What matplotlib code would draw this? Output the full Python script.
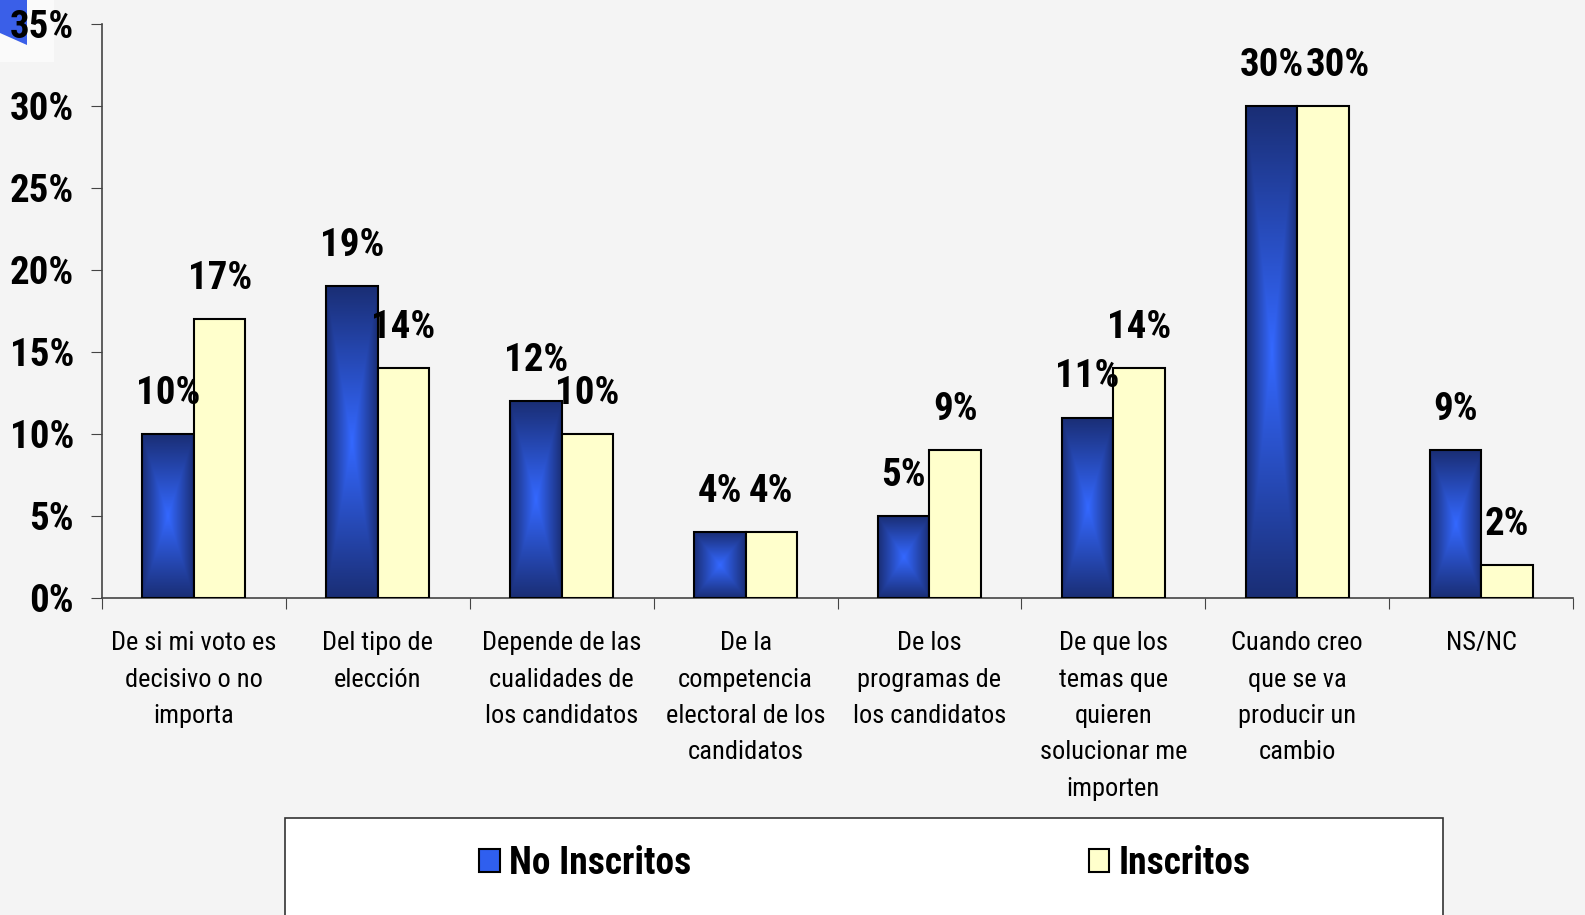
import matplotlib
matplotlib.use('Agg')
import matplotlib.pyplot as plt
import numpy as np
from matplotlib.colors import LinearSegmentedColormap
from matplotlib.patches import Rectangle, Polygon, Patch

plt.rcParams['font.family'] = ['Roboto Condensed', 'DejaVu Sans']

categories = ["De si mi voto es\ndecisivo o no\nimporta",
              "Del tipo de\nelección",
              "Depende de las\ncualidades de\nlos candidatos",
              "De la\ncompetencia\nelectoral de los\ncandidatos",
              "De los\nprogramas de\nlos candidatos",
              "De que los\ntemas que\nquieren\nsolucionar me\nimporten",
              "Cuando creo\nque se va\nproducir un\ncambio",
              "NS/NC"]
no_inscritos = [10, 19, 12, 4, 5, 11, 30, 9]
inscritos = [17, 14, 10, 4, 9, 14, 30, 2]
y_ticks = [0, 5, 10, 15, 20, 25, 30, 35]

bg = '#F4F4F4'
blue_cmap = LinearSegmentedColormap.from_list('bar', ['#3468FF', '#1A2E75'])

fig = plt.figure(figsize=(15.85, 9.15), dpi=100, facecolor=bg)
ax = fig.add_axes([102 / 1585, 317 / 915, 1471 / 1585, 574 / 915])
ax.set_facecolor(bg)

x = np.arange(len(categories))
w = 0.28

bars_b = ax.bar(x - w / 2, no_inscritos, w, facecolor='none', edgecolor='black', linewidth=1.5, zorder=3)
bars_y = ax.bar(x + w / 2, inscritos, w, color='#FFFFCC', edgecolor='black', linewidth=1.5, zorder=3)

# gradiente "desde el centro" para las barras azules
u = np.linspace(-1, 1, 200)
uu, vv = np.meshgrid(u, u)
grad = np.maximum(np.abs(uu), np.abs(vv))
for b in bars_b:
    x0, y0 = b.get_x(), b.get_y()
    im = ax.imshow(grad, cmap=blue_cmap, extent=(x0, x0 + b.get_width(), y0, y0 + b.get_height()),
                   aspect='auto', zorder=2, interpolation='bilinear')
    im.set_clip_path(b)

labels = []
for bars, vals in [(bars_b, no_inscritos), (bars_y, inscritos)]:
    row = []
    for b, v in zip(bars, vals):
        t = ax.annotate(f"{v}%", (b.get_x() + b.get_width() / 2, v), xytext=(0, 16),
                        textcoords='offset points', ha='center', va='bottom',
                        fontsize=28, fontweight='bold', zorder=4)
        row.append(t)
    labels.append(row)

ax.set_xlim(-0.5, len(categories) - 0.5)
ax.set_ylim(0, 35)
ax.set_yticks(y_ticks)
ax.set_yticklabels([f"{t}%" for t in y_ticks], fontsize=28, fontweight='bold')
ax.set_xticks(np.arange(-0.5, len(categories), 1.0))
ax.set_xticklabels([])
ax.set_xticks(x, minor=True)
ax.set_xticklabels(categories, minor=True, fontsize=19, linespacing=1.65, va='top')
ax.tick_params(axis='x', which='minor', length=0, pad=24)
ax.tick_params(axis='x', which='major', length=8, color='#444444')
ax.tick_params(axis='y', length=8, color='#444444', pad=12)
for s in ['top', 'right']:
    ax.spines[s].set_visible(False)
for s in ['left', 'bottom']:
    ax.spines[s].set_color('#444444')
    ax.spines[s].set_linewidth(1.2)

# separar etiquetas a la misma altura que se pisan (como hace Excel)
fig.canvas.draw()
r = fig.canvas.get_renderer()
for tb, ty in zip(labels[0], labels[1]):
    eb = tb.get_window_extent(r)
    ey = ty.get_window_extent(r)
    ov = eb.x1 - ey.x0
    if ov > 0 and abs(eb.y0 - ey.y0) < 5:
        ty.xyann = ((ov + 2) * 72 / fig.dpi, 16)

# caja de la leyenda
fig.patches.append(Rectangle((285 / 1585, -0.05), 1158 / 1585, 0.156, transform=fig.transFigure,
                             facecolor='white', edgecolor='#333333', linewidth=1.2, zorder=1))
handles = [Patch(facecolor='#2F5FEF', edgecolor='black', linewidth=1.5, label='No Inscritos'),
           Patch(facecolor='#FFFFCC', edgecolor='black', linewidth=1.5, label='Inscritos')]
leg = fig.legend(handles=handles, loc='center', bbox_to_anchor=(865 / 1585, 52 / 915), ncol=2,
                 frameon=False, prop={'size': 27, 'weight': 'bold'}, handlelength=0.55,
                 handleheight=0.55, handletextpad=0.25, columnspacing=10.6)

# mancha azul de la esquina
fig.patches.append(Rectangle((0, 1 - 62 / 915), 54 / 1585, 62 / 915, transform=fig.transFigure,
                             facecolor='#FAFAFA', edgecolor='none', zorder=-2))
fig.patches.append(Polygon([(0, 1), (27 / 1585, 1), (27 / 1585, 1 - 45 / 915), (0, 1 - 33 / 915)],
                           transform=fig.transFigure, facecolor='#3A5FE8', edgecolor='none', zorder=-1))

fig.savefig('out.png', dpi=100, facecolor=bg)
